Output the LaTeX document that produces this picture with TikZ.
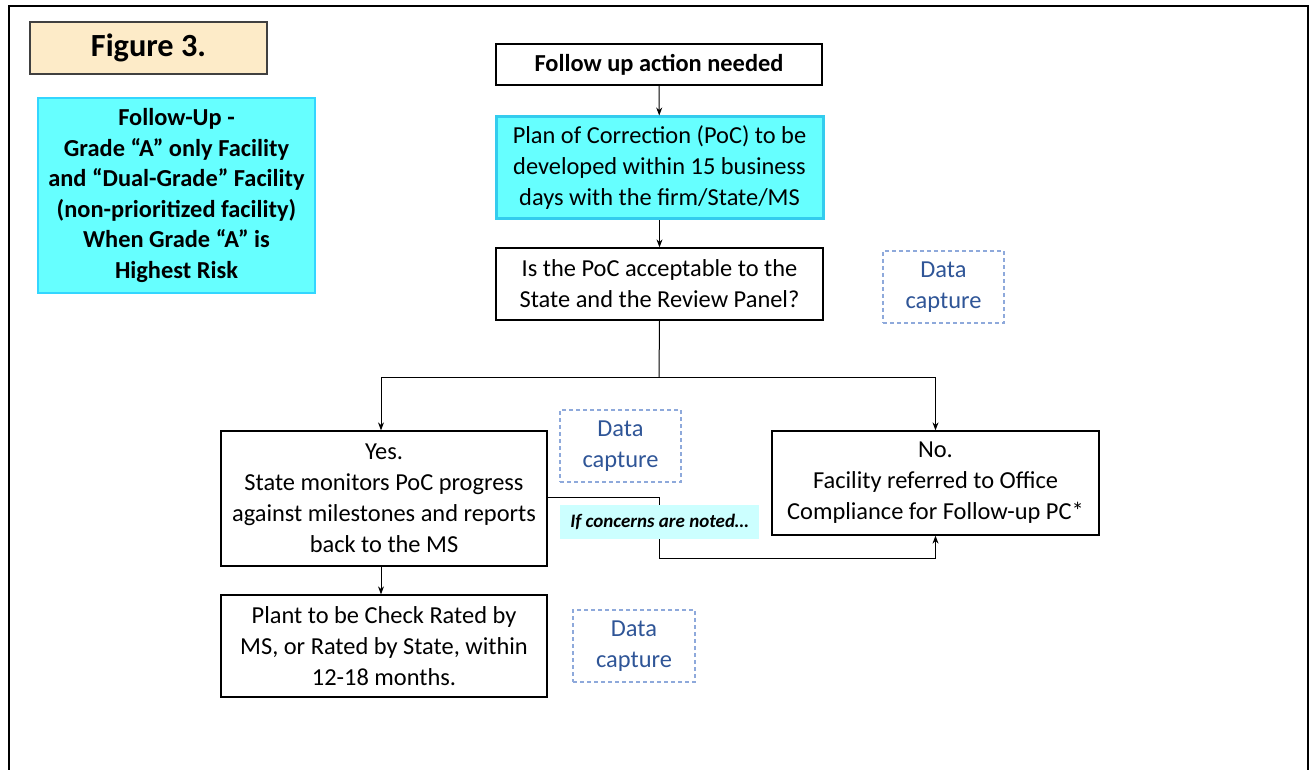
\documentclass[tikz,border=0pt]{standalone}
\usepackage{fontspec}
\setmainfont{Carlito}
\usetikzlibrary{arrows.meta}
\definecolor{figfill}{HTML}{FDEBC8}
\definecolor{cyanfill}{HTML}{66FFFF}
\definecolor{cyanborder}{HTML}{33D6FF}
\definecolor{pocborder}{HTML}{33CCEE}
\definecolor{lightcyan}{HTML}{CCFFFF}
\definecolor{dcborder}{HTML}{8EA9DB}
\definecolor{dctext}{HTML}{2F5597}
\tikzset{
  box/.style={draw=black, line width=1.3pt, align=center, inner sep=0pt,
    font=\fontsize{24.4}{31}\selectfont},
  dcbox/.style={draw=dcborder, dashed, dash pattern=on 4pt off 3pt, line width=1.2pt,
    align=center, inner sep=0pt, text=dctext, minimum width=121pt, minimum height=72pt,
    font=\fontsize{24.4}{31}\selectfont},
  arr/.style={-{Stealth[length=8pt,width=6pt]}, line width=1pt},
  conn/.style={line width=1pt}
}
\begin{document}
\begin{tikzpicture}[x=1pt,y=-1pt]
\useasboundingbox (0,0) rectangle (1310,770);
\fill[white] (0,0) rectangle (1310,770);
\draw[line width=2.5pt] (9,780) -- (9,6) -- (1308,6) -- (1308,780);

\node[draw=black!75, fill=figfill, line width=1.3pt, minimum width=237pt, minimum height=52pt,
  font=\fontsize{32.3}{38}\selectfont\bfseries] (fig) at (148.5,48) {Figure 3.};

\node[draw=cyanborder, fill=cyanfill, line width=1.3pt, minimum width=277pt, minimum height=195pt,
  align=center, inner sep=0pt, font=\fontsize{24.4}{30.5}\selectfont\bfseries] (side) at (176.5,195.5)
  {Follow-Up -\\Grade “A” only Facility\\and “Dual-Grade” Facility\\(non-prioritized facility)\\When Grade “A” is\\Highest Risk};

\node[box, minimum width=326pt, minimum height=41pt, font=\fontsize{24.4}{30}\selectfont\bfseries] (follow) at (659,64.5) {Follow up action needed};

\node[box, draw=pocborder, fill=cyanfill, line width=3pt, minimum width=327pt, minimum height=102pt] (poc) at (659.5,168)
  {Plan of Correction (PoC) to be\\developed within 15 business\\days with the firm/State/MS};

\node[box, minimum width=327pt, minimum height=72pt] (q) at (659.5,284)
  {Is the PoC acceptable to the\\State and the Review Panel?};

\node[box, minimum width=326pt, minimum height=135pt] (yes) at (384,498.5)
  {Yes.\\State monitors PoC progress\\against milestones and reports\\back to the MS};

\node[box, minimum width=327pt, minimum height=104pt] (no) at (935.5,483)
  {No.\\Facility referred to Office\\Compliance for Follow-up PC*};

\node[box, minimum width=326pt, minimum height=102pt] (plant) at (384,646)
  {Plant to be Check Rated by\\MS, or Rated by State, within\\12-18 months.};

\node[dcbox] (dc1) at (943.5,287) {Data\\capture};
\node[dcbox] (dc2) at (620.5,446) {Data\\capture};
\node[dcbox, minimum width=122pt] (dc3) at (634,646) {Data\\capture};

\draw[arr] (follow) -- (poc);
\draw[arr] (poc) -- (q);
\coordinate (sp) at (659,377);
\draw[conn] (q.south) -- (sp);
\draw[arr] (sp) -| ([xshift=-3pt]yes.north);
\draw[arr] (sp) -| (no.north);
\draw[arr] ([xshift=-3pt]yes.south) -- ([xshift=-3pt]plant.north);

\coordinate (c1) at (659,497);
\coordinate (c2) at (659,558);
\draw[arr] (yes.east |- c1) -- (c1) -- (c2) -| (no.south);

\node[fill=lightcyan, minimum width=199pt, minimum height=34pt, inner sep=0pt,
  font=\fontsize{19}{22}\selectfont\bfseries\itshape] (concern) at (659.5,522) {If concerns are noted…};
\end{tikzpicture}
\end{document}
